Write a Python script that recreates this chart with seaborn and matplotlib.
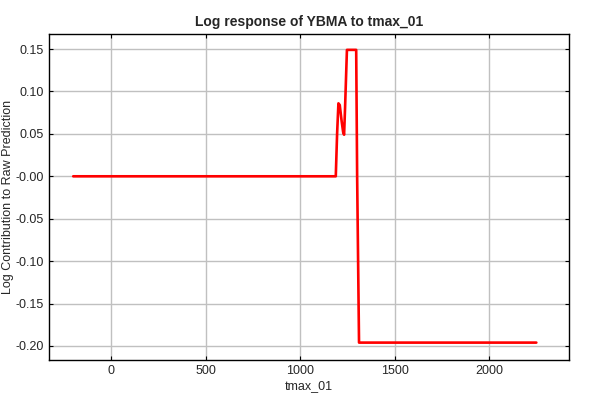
import numpy as np
import pandas as pd
import seaborn as sns
import matplotlib
matplotlib.use("Agg")
import matplotlib.pyplot as plt

# response curve
tmax = [-200, 1189, 1196, 1203, 1210, 1220, 1228, 1233, 1238, 1248, 1297, 1302, 1312, 2250]
resp = [0.0, 0.0, 0.05, 0.086, 0.084, 0.065, 0.052, 0.049, 0.08, 0.149, 0.149, 0.0, -0.196, -0.196]

df = pd.DataFrame({"tmax_01": tmax, "resp": resp})

sns.set_style("white")
plt.rcParams["font.family"] = ["Liberation Sans", "DejaVu Sans"]

fig = plt.figure(figsize=(6, 4), dpi=100)
ax = fig.add_axes([0.0817, 0.1, 0.8667, 0.815])

sns.lineplot(data=df, x="tmax_01", y="resp", color="red", linewidth=1.9, ax=ax, sort=False)

ax.set_xlim(-328, 2423)
ax.set_ylim(-0.2165, 0.1677)
ax.set_xticks([0, 500, 1000, 1500, 2000])
ax.set_yticks([0.15, 0.10, 0.05, 0.0, -0.05, -0.10, -0.15, -0.20])
ax.set_yticklabels(["0.15", "0.10", "0.05", "-0.00", "-0.05", "-0.10", "-0.15", "-0.20"])
ax.grid(True, color="#c0c0c0", linewidth=1)
ax.set_axisbelow(True)
for s in ax.spines.values():
    s.set_color("black")
    s.set_linewidth(1)
ax.tick_params(direction="in", length=3, color="black", labelsize=9,
               top=True, right=True, bottom=True, left=True)
ax.set_xlabel("tmax_01", fontsize=9, labelpad=2)
ax.set_ylabel("Log Contribution to Raw Prediction", fontsize=9, labelpad=1)
ax.set_title("Log response of YBMA to tmax_01", fontsize=10, fontweight="bold", pad=6)

fig.savefig("out.png", dpi=100)
